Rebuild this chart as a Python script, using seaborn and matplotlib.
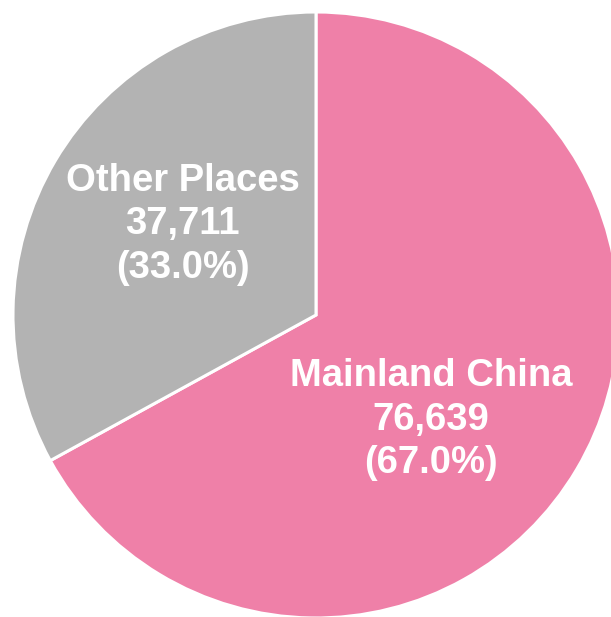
import seaborn as sns
import matplotlib.pyplot as plt

# datos del gráfico
regiones = ['Mainland China', 'Other Places']
valores = [76639, 37711]
porcentajes = [67.0, 33.0]
colores = ['#EF80A8', '#B3B3B3']

sns.set_theme(style='white')
plt.rcParams['font.family'] = ['Liberation Sans', 'DejaVu Sans']

fig = plt.figure(figsize=(6.11, 6.17), dpi=100)
ax = fig.add_axes([13 / 611, -1 / 617, 606 / 611, 606 / 617])

ax.pie(valores, colors=colores, startangle=90, counterclock=False,
       wedgeprops={'edgecolor': 'white', 'linewidth': 2.2})
ax.set_xlim(-1, 1)
ax.set_ylim(-1, 1)
ax.set_aspect('equal')
ax.axis('off')

# posiciones de las etiquetas (en unidades del radio)
posiciones = [(0.38, -0.345), (-0.44, 0.30)]
for nombre, v, p, (x, y) in zip(regiones, valores, porcentajes, posiciones):
    ax.text(x, y, f'{nombre}\n{v:,}\n({p:.1f}%)', ha='center', va='center',
            color='white', fontsize=27.5, fontweight='bold', linespacing=1.27)

fig.savefig('out.png', dpi=100)
